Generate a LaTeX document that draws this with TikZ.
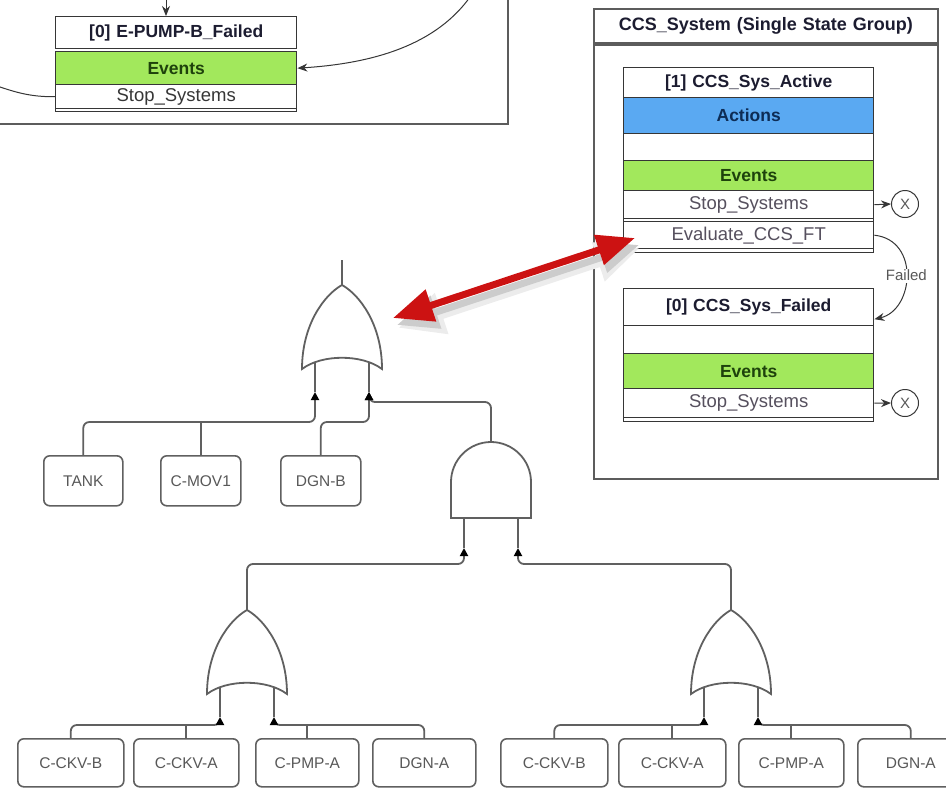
\documentclass[tikz,border=0pt]{standalone}
\usepackage{fontspec}
\setmainfont{Liberation Sans}
\usetikzlibrary{arrows.meta}

\definecolor{evgreen}{HTML}{A2E85C}
\definecolor{acblue}{HTML}{5AA9F2}
\definecolor{framegray}{HTML}{5C5C5C}
\definecolor{rowline}{HTML}{363636}
\definecolor{wiregray}{HTML}{606060}
\definecolor{labelgray}{HTML}{585858}
\definecolor{titleink}{HTML}{1C1C30}
\definecolor{eventink}{HTML}{1E420C}
\definecolor{actionink}{HTML}{0D2C55}
\definecolor{itemink}{HTML}{56505E}
\definecolor{arrowred}{HTML}{CC1212}

\begin{document}
\begin{tikzpicture}[x=1pt,y=-1pt,
  srow/.style n args={2}{draw=rowline, line width=1.4pt, anchor=north west,
    inner sep=0pt, minimum width=#1, text width=#1, minimum height=#2, align=center},
  boldtxt/.style={font=\fontsize{17.5}{20}\selectfont\bfseries},
  plaintxt/.style={font=\fontsize{18.5}{21}\selectfont},
  grp/.style={draw=framegray, line width=1.9pt, anchor=north west, inner sep=0pt},
  flow/.style={draw=rowline, line width=1pt, -{Stealth[length=10pt,width=8pt]}},
  wire/.style={draw=wiregray, line width=1.8pt, rounded corners=6pt},
  conn/.style={wire, -{Triangle[length=8pt,width=8pt,color=black]}},
  gate/.style={draw=wiregray, line width=1.8pt, fill=white},
  ftbox/.style={draw=wiregray, line width=1.6pt, rounded corners=6pt, fill=white,
    inner sep=0pt, anchor=north west, text=labelgray, font=\fontsize{15.5}{18}\selectfont},
  orgate/.pic={
    \draw[wire] (-27,72) -- (-27,107) coordinate (-in1);
    \draw[wire] (27,72) -- (27,107) coordinate (-in2);
    \draw[gate] (0,0) .. controls (18,10) and (40,40) .. (40,84)
      .. controls (20,69) and (-20,69) .. (-40,84)
      .. controls (-40,40) and (-18,10) .. (0,0) -- cycle;
    \coordinate (-out) at (0,0);
  },
  andgate/.pic={
    \draw[wire] (-27,75) -- (-27,106) coordinate (-in1);
    \draw[wire] (27,75) -- (27,106) coordinate (-in2);
    \draw[gate] (-40,76) -- (-40,40) .. controls (-40,18) and (-22,0) .. (0,0)
      .. controls (22,0) and (40,18) .. (40,40) -- (40,76) -- cycle;
    \coordinate (-out) at (0,0);
  }
]
\useasboundingbox (0,0) rectangle (946,788);
\clip (0,0) rectangle (946,788);

% ---------- diagram group holding the failed pump state ----------
\node[grp, minimum width=517, minimum height=133] (lgroup) at (-10,-10) {};
\node[srow={241}{32}, boldtxt, text=titleink, fill=white] (ltitle) at (55,16) {[0] E-PUMP-B\_Failed};
\node[srow={241}{33}, boldtxt, text=eventink, fill=evgreen] (levents) at (55,51) {Events};
\node[srow={241}{24}, plaintxt, text=rowline, fill=white] (lstop) at (55,84) {Stop\_Systems};
\node[srow={241}{3}, fill=white] (lfoot) at (55,108) {};

\coordinate (lin) at (166,-2);
\coordinate (lfrom) at (470,-3);
\coordinate (lout) at (-3,86);
\draw[flow] (lin) -- (ltitle.north -| lin);
\draw[flow] (lfrom) .. controls (432,50) and (362,64) .. (levents.east);
\draw[draw=rowline, line width=1pt] (lstop.west) .. controls (30,97) and (15,92) .. (lout);

% ---------- CCS system state group ----------
\node[grp, minimum width=344, minimum height=434] (cbody) at (593,44) {};
\node[grp, minimum width=344, minimum height=34, text width=344, align=center,
  font=\fontsize{18}{20}\selectfont\bfseries, text=titleink] (ctitle) at (593,8)
  {CCS\_System (Single State Group)};

% active state
\node[srow={250}{30}, boldtxt, text=titleink, fill=white] (atitle) at (623,67) {[1] CCS\_Sys\_Active};
\node[srow={250}{36}, boldtxt, text=actionink, fill=acblue] (aact) at (623,97) {Actions};
\node[srow={250}{27}, fill=white] (aempty) at (623,133) {};
\node[srow={250}{30}, boldtxt, text=eventink, fill=evgreen] (aevents) at (623,160) {Events};
\node[srow={250}{28}, plaintxt, text=itemink, fill=white] (astop) at (623,190) {Stop\_Systems};
\node[srow={250}{3}, fill=white] (astrip) at (623,218) {};
\node[srow={250}{27}, plaintxt, text=itemink, fill=white] (aeval) at (623,221) {Evaluate\_CCS\_FT};
\node[srow={250}{4}, fill=white] (afoot) at (623,248) {};

% failed state
\node[srow={250}{37}, boldtxt, text=titleink, fill=white] (ftitle) at (623,288) {[0] CCS\_Sys\_Failed};
\node[srow={250}{28}, fill=white] (fempty) at (623,325) {};
\node[srow={250}{35}, boldtxt, text=eventink, fill=evgreen] (fevents) at (623,353) {Events};
\node[srow={250}{29}, plaintxt, text=itemink, fill=white] (fstop) at (623,388) {Stop\_Systems};
\node[srow={250}{4}, fill=white] (ffoot) at (623,417) {};

% terminal markers
\node[draw=rowline, line width=1pt, circle, minimum size=27, inner sep=0pt,
  text=labelgray, font=\fontsize{15}{17}\selectfont] (xa) at (905,204) {X};
\node[draw=rowline, line width=1pt, circle, minimum size=27, inner sep=0pt,
  text=labelgray, font=\fontsize{15}{17}\selectfont] (xf) at (905,403) {X};
\draw[flow] (astop.east) -- (xa.west);
\draw[flow] (fstop.east) -- (xf.west);

\draw[flow] (aeval.east) .. controls (920,240) and (914,310) .. ([yshift=-12pt]ftitle.east)
  node[pos=0.5, fill=white, inner sep=1.5pt, text=labelgray, font=\fontsize{15}{17}\selectfont] {Failed};

% ---------- fault tree ----------
\pic (or1) at (342,285) {orgate};
\pic (and1) at (491,442) {andgate};
\pic (or2) at (247,610) {orgate};
\pic (or3) at (731,610) {orgate};

\coordinate (topev) at (342,260);
\draw[wire] (topev) -- (or1-out);

\node[ftbox, minimum width=79, minimum height=50] (tank) at (43,455) {TANK};
\node[ftbox, minimum width=80, minimum height=50] (cmov) at (160,455) {C-MOV1};
\node[ftbox, minimum width=80, minimum height=50] (dgnb) at (280,455) {DGN-B};

\node[ftbox, minimum width=106, minimum height=48] (l1) at (17,738) {C-CKV-B};
\node[ftbox, minimum width=105, minimum height=48] (l2) at (133,738) {C-CKV-A};
\node[ftbox, minimum width=103, minimum height=48] (l3) at (255,738) {C-PMP-A};
\node[ftbox, minimum width=103, minimum height=48] (l4) at (372,738) {DGN-A};

\node[ftbox, minimum width=107, minimum height=48] (r1) at (500,738) {C-CKV-B};
\node[ftbox, minimum width=107, minimum height=48] (r2) at (618,738) {C-CKV-A};
\node[ftbox, minimum width=105, minimum height=48] (r3) at (738,738) {C-PMP-A};
\node[ftbox, minimum width=106, minimum height=48] (r4) at (857,738) {DGN-A};

% bus levels
\coordinate (busA) at (0,422);
\coordinate (busC) at (0,402);
\coordinate (busD) at (0,564);
\coordinate (busE) at (0,725);

\draw[conn] (tank.north) |- (busA -| or1-in1) -- (or1-in1);
\draw[wire] (cmov.north) -- (busA -| cmov.north);
\draw[conn] (dgnb.north) |- (busA -| or1-in2) -- (or1-in2);
\draw[conn] (and1-out) |- (busC -| or1-in2) -- (or1-in2);

\draw[conn] (or2-out) |- (busD -| and1-in1) -- (and1-in1);
\draw[conn] (or3-out) |- (busD -| and1-in2) -- (and1-in2);

\draw[conn] (l1.north) |- (busE -| or2-in1) -- (or2-in1);
\draw[wire] (l2.north) -- (busE -| l2.north);
\draw[conn] (l4.north) |- (busE -| or2-in2) -- (or2-in2);
\draw[wire] (l3.north) -- (busE -| l3.north);

\draw[conn] (r1.north) |- (busE -| or3-in1) -- (or3-in1);
\draw[wire] (r2.north) -- (busE -| r2.north);
\draw[conn] (r4.north) |- (busE -| or3-in2) -- (or3-in2);
\draw[wire] (r3.north) -- (busE -| r3.north);

% ---------- link between the evaluation event and the tree ----------
\coordinate (redL) at (393,318);
\coordinate (redR) at (635,238);
\draw[line width=11pt, gray!15, {Triangle[length=46pt,width=40pt]}-{Triangle[length=44pt,width=38pt]}]
  ([shift={(5,10)}]redL) -- ([shift={(5,10)}]redR);
\draw[line width=7pt, gray!40, {Triangle[length=41pt,width=33pt]}-{Triangle[length=39pt,width=31pt]}]
  ([shift={(4,7)}]redL) -- ([shift={(4,7)}]redR);
\draw[line width=7pt, arrowred, {Triangle[length=40pt,width=32pt]}-{Triangle[length=38pt,width=30pt]}]
  (redL) -- (redR);
\end{tikzpicture}
\end{document}
